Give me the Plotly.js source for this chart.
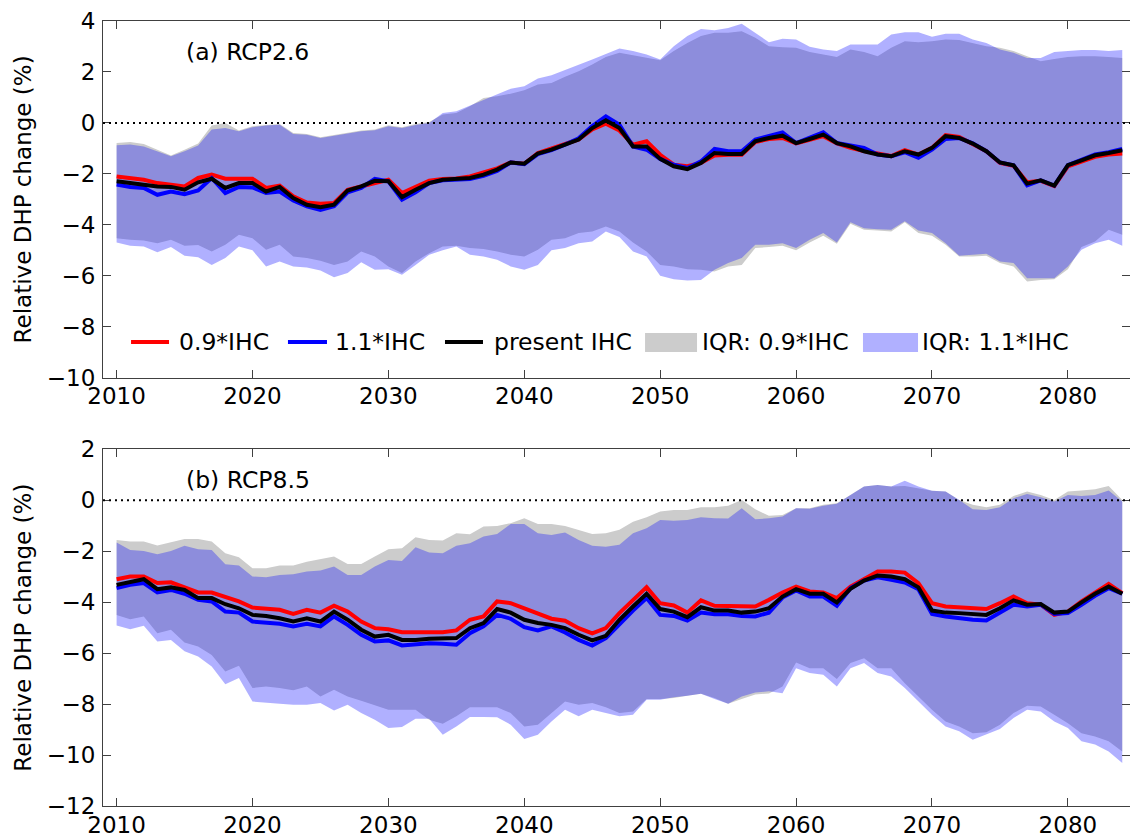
<!DOCTYPE html>
<html><head><meta charset="utf-8">
<script src="https://cdn.plot.ly/plotly-3.0.1.min.js"></script>
<style>html,body{margin:0;padding:0;background:#fff}</style>
</head><body><div id="chart" style="width:1130px;height:840px"></div>
<script>
const years = [2010,2011,2012,2013,2014,2015,2016,2017,2018,2019,
2020,2021,2022,2023,2024,2025,2026,2027,2028,2029,
2030,2031,2032,2033,2034,2035,2036,2037,2038,2039,
2040,2041,2042,2043,2044,2045,2046,2047,2048,2049,
2050,2051,2052,2053,2054,2055,2056,2057,2058,2059,
2060,2061,2062,2063,2064,2065,2066,2067,2068,2069,
2070,2071,2072,2073,2074,2075,2076,2077,2078,2079,
2080,2081,2082,2083,2084];
const xTicks = [2010,2020,2030,2040,2050,2060,2070,2080];

// (a) RCP2.6
const a_ihc09 = [-2.10,-2.16,-2.23,-2.36,-2.42,-2.49,-2.16,-2.03,-2.19,-2.19,
-2.19,-2.55,-2.46,-2.88,-3.12,-3.17,-3.14,-2.62,-2.49,-2.33,
-2.23,-2.75,-2.51,-2.27,-2.20,-2.18,-2.10,-1.95,-1.78,-1.55,
-1.60,-1.18,-1.00,-0.83,-0.65,-0.25,-0.03,-0.30,-0.85,-0.72,
-1.25,-1.64,-1.70,-1.57,-1.28,-1.25,-1.25,-0.75,-0.63,-0.59,
-0.80,-0.66,-0.52,-0.80,-0.98,-1.10,-1.22,-1.30,-1.07,-1.24,
-0.98,-0.48,-0.55,-0.85,-1.11,-1.57,-1.68,-2.33,-2.27,-2.48,
-1.70,-1.52,-1.33,-1.24,-1.20];
const a_ihc11 = [-2.42,-2.51,-2.55,-2.82,-2.69,-2.80,-2.65,-2.16,-2.75,-2.51,
-2.53,-2.75,-2.69,-3.04,-3.27,-3.41,-3.27,-2.72,-2.55,-2.19,
-2.29,-3.01,-2.72,-2.36,-2.25,-2.22,-2.20,-2.08,-1.88,-1.55,
-1.62,-1.22,-1.07,-0.85,-0.60,-0.12,0.26,-0.07,-0.92,-1.05,
-1.41,-1.64,-1.77,-1.51,-1.02,-1.11,-1.11,-0.65,-0.50,-0.37,
-0.79,-0.58,-0.37,-0.79,-0.88,-0.98,-1.24,-1.31,-1.15,-1.37,
-1.05,-0.63,-0.59,-0.80,-1.11,-1.55,-1.66,-2.45,-2.25,-2.46,
-1.66,-1.45,-1.24,-1.15,-1.02];
const a_present = [-2.29,-2.36,-2.40,-2.49,-2.51,-2.62,-2.33,-2.19,-2.55,-2.36,
-2.36,-2.69,-2.51,-2.95,-3.21,-3.31,-3.21,-2.65,-2.49,-2.27,
-2.29,-2.91,-2.62,-2.36,-2.23,-2.20,-2.16,-2.03,-1.83,-1.55,
-1.60,-1.20,-1.05,-0.85,-0.65,-0.20,0.10,-0.20,-0.92,-0.92,
-1.41,-1.70,-1.81,-1.57,-1.18,-1.22,-1.22,-0.72,-0.59,-0.50,
-0.79,-0.63,-0.46,-0.79,-0.92,-1.11,-1.24,-1.31,-1.11,-1.24,
-0.98,-0.52,-0.59,-0.81,-1.11,-1.55,-1.66,-2.38,-2.25,-2.46,
-1.66,-1.47,-1.27,-1.18,-1.07];
const a_iqr09_hi = [-0.79,-0.75,-0.83,-1.05,-1.28,-1.05,-0.81,-0.10,0.00,-0.30,
-0.13,-0.08,-0.04,-0.39,-0.43,-0.56,-0.47,-0.37,-0.30,-0.26,
-0.09,-0.17,-0.04,0.04,0.33,0.39,0.65,0.98,1.05,1.15,
1.28,1.51,1.57,1.81,2.03,2.29,2.59,2.75,2.65,2.55,
2.46,2.82,3.14,3.41,3.54,3.54,3.60,3.34,3.01,2.97,
2.95,2.78,2.69,2.59,2.88,2.78,2.62,2.95,3.21,3.17,
3.21,3.27,3.25,3.14,3.01,2.95,2.82,2.62,2.42,2.51,
2.59,2.62,2.62,2.59,2.55];
const a_iqr09_lo = [-4.52,-4.58,-4.61,-4.72,-4.58,-4.82,-4.79,-5.04,-4.78,-4.39,
-4.52,-4.98,-4.78,-5.24,-5.30,-5.41,-5.57,-5.44,-5.04,-5.24,
-5.63,-5.89,-5.44,-5.11,-4.85,-4.82,-4.91,-4.95,-5.04,-5.17,
-5.24,-4.98,-4.58,-4.52,-4.32,-4.26,-4.06,-4.26,-4.69,-5.04,
-5.57,-5.63,-5.74,-5.76,-5.83,-5.63,-5.57,-4.91,-4.87,-4.82,
-5.00,-4.69,-4.43,-4.74,-3.96,-4.19,-4.22,-4.26,-3.90,-4.32,
-4.43,-4.78,-5.24,-5.24,-5.21,-5.50,-5.63,-6.22,-6.16,-6.13,
-5.74,-4.87,-4.65,-4.19,-4.39];
const a_iqr11_hi = [-0.88,-0.85,-0.92,-1.11,-1.31,-1.11,-0.89,-0.26,-0.20,-0.33,
-0.17,-0.10,-0.07,-0.43,-0.46,-0.59,-0.50,-0.39,-0.33,-0.29,
-0.13,-0.20,-0.08,0.00,0.39,0.46,0.68,0.92,1.14,1.34,
1.44,1.74,1.87,2.06,2.28,2.49,2.72,2.92,2.82,2.69,
2.49,3.01,3.41,3.69,3.64,3.73,3.89,3.54,3.17,3.30,
3.27,2.99,2.88,2.82,3.08,3.08,3.08,3.47,3.56,3.56,
3.38,3.50,3.50,3.27,3.14,2.88,2.75,2.55,2.55,2.78,
2.82,2.86,2.86,2.82,2.86];
const a_iqr11_lo = [-4.69,-4.82,-4.85,-5.07,-4.87,-5.21,-5.27,-5.57,-5.30,-4.85,
-5.00,-5.63,-5.44,-5.63,-5.67,-5.79,-6.06,-5.89,-5.47,-5.76,
-5.74,-5.96,-5.57,-5.17,-5.00,-4.85,-5.17,-5.24,-5.37,-5.63,
-5.76,-5.57,-5.00,-4.91,-4.72,-4.65,-4.26,-4.48,-5.04,-5.24,
-6.00,-6.13,-6.18,-6.16,-5.76,-5.50,-5.30,-4.78,-4.78,-4.72,
-4.91,-4.58,-4.32,-4.69,-3.90,-4.13,-4.17,-4.19,-3.86,-4.22,
-4.32,-4.72,-5.21,-5.17,-5.13,-5.44,-5.50,-6.09,-6.09,-6.09,
-5.63,-4.98,-4.72,-4.58,-4.82];

// (b) RCP8.5
const b_ihc09 = [-3.10,-2.99,-2.99,-3.25,-3.22,-3.42,-3.62,-3.62,-3.78,-3.97,
-4.21,-4.24,-4.30,-4.46,-4.30,-4.41,-4.14,-4.37,-4.76,-5.02,
-5.06,-5.18,-5.19,-5.19,-5.18,-5.11,-4.69,-4.56,-3.97,-4.04,
-4.24,-4.43,-4.65,-4.73,-5.02,-5.22,-5.02,-4.43,-3.91,-3.41,
-4.04,-4.13,-4.41,-3.93,-4.14,-4.14,-4.14,-4.17,-3.91,-3.62,
-3.39,-3.58,-3.62,-3.84,-3.39,-3.10,-2.80,-2.80,-2.84,-3.25,
-4.04,-4.17,-4.20,-4.24,-4.27,-4.04,-3.78,-4.04,-4.10,-4.50,
-4.37,-3.97,-3.62,-3.28,-3.65];
const b_ihc11 = [-3.45,-3.32,-3.25,-3.62,-3.52,-3.67,-3.91,-3.97,-4.37,-4.41,
-4.76,-4.82,-4.85,-4.95,-4.85,-4.95,-4.56,-4.89,-5.28,-5.54,
-5.50,-5.70,-5.67,-5.61,-5.63,-5.67,-5.22,-4.95,-4.50,-4.65,
-4.98,-5.11,-4.95,-5.19,-5.48,-5.70,-5.41,-4.85,-4.33,-3.84,
-4.50,-4.54,-4.72,-4.41,-4.47,-4.47,-4.54,-4.56,-4.41,-3.82,
-3.54,-3.78,-3.78,-4.14,-3.45,-3.15,-3.02,-3.12,-3.23,-3.49,
-4.46,-4.56,-4.63,-4.69,-4.72,-4.43,-4.10,-4.17,-4.10,-4.46,
-4.43,-4.10,-3.75,-3.45,-3.67];
const b_present = [-3.32,-3.19,-3.10,-3.49,-3.42,-3.52,-3.84,-3.84,-4.08,-4.24,
-4.50,-4.54,-4.63,-4.76,-4.63,-4.76,-4.37,-4.69,-5.08,-5.35,
-5.28,-5.48,-5.48,-5.44,-5.41,-5.41,-5.02,-4.82,-4.27,-4.41,
-4.69,-4.82,-4.89,-5.02,-5.28,-5.50,-5.32,-4.69,-4.17,-3.67,
-4.27,-4.37,-4.59,-4.20,-4.33,-4.33,-4.41,-4.37,-4.24,-3.78,
-3.49,-3.67,-3.67,-4.01,-3.48,-3.15,-2.95,-2.99,-3.10,-3.42,
-4.33,-4.41,-4.43,-4.46,-4.50,-4.24,-3.93,-4.10,-4.07,-4.41,
-4.37,-4.01,-3.67,-3.39,-3.67];
const b_iqr09_hi = [-1.56,-1.62,-1.62,-1.78,-1.65,-1.52,-1.52,-1.62,-2.08,-2.24,
-2.67,-2.67,-2.56,-2.56,-2.41,-2.31,-2.21,-2.50,-2.50,-2.21,
-1.92,-1.88,-1.45,-1.56,-1.58,-1.29,-1.33,-1.03,-1.01,-0.90,
-0.71,-0.93,-0.93,-1.01,-1.16,-1.32,-1.29,-1.16,-0.84,-0.67,
-0.44,-0.38,-0.38,-0.27,-0.27,-0.22,0.01,-0.35,-0.61,-0.58,
-0.31,-0.31,-0.18,-0.12,0.21,0.54,0.60,0.54,0.56,0.47,
0.37,0.34,0.01,-0.18,-0.27,-0.18,0.17,0.34,0.21,0.01,
0.34,0.38,0.43,0.56,0.01];
const b_iqr09_lo = [-4.50,-4.67,-4.56,-5.22,-5.08,-5.58,-5.74,-6.07,-6.72,-6.50,
-7.37,-7.31,-7.37,-7.46,-7.31,-7.70,-7.44,-7.70,-7.87,-8.03,
-8.22,-8.22,-8.22,-8.61,-8.77,-8.48,-8.12,-8.12,-8.12,-8.35,
-8.88,-8.81,-8.35,-7.90,-8.03,-7.96,-8.12,-8.35,-8.29,-7.80,
-7.80,-7.76,-7.67,-7.59,-7.76,-7.99,-7.80,-7.62,-7.58,-7.31,
-6.37,-6.59,-6.59,-7.02,-6.39,-6.20,-6.59,-6.59,-7.18,-7.70,
-8.22,-8.68,-8.88,-9.14,-9.11,-8.81,-8.35,-8.07,-8.09,-8.42,
-8.75,-9.14,-9.27,-9.46,-9.86];
const b_iqr11_hi = [-1.66,-1.95,-1.99,-2.12,-1.99,-1.79,-1.92,-1.95,-2.51,-2.56,
-2.99,-3.02,-2.93,-2.90,-2.80,-2.76,-2.60,-2.93,-2.93,-2.60,
-2.34,-2.38,-1.84,-2.05,-2.08,-1.79,-1.69,-1.42,-1.32,-0.93,
-0.93,-1.29,-1.36,-1.27,-1.56,-1.79,-1.82,-1.75,-1.29,-1.10,
-0.77,-0.80,-0.77,-0.67,-0.71,-0.72,-0.31,-0.75,-0.71,-0.64,
-0.31,-0.33,-0.22,-0.14,0.21,0.54,0.60,0.54,0.77,0.54,
0.37,0.34,0.01,-0.35,-0.38,-0.27,0.08,0.25,0.12,-0.05,
0.21,0.17,0.21,0.38,-0.05];
const b_iqr11_lo = [-4.92,-5.06,-4.93,-5.54,-5.48,-5.93,-6.13,-6.52,-7.22,-6.98,
-7.90,-7.93,-7.99,-8.03,-8.03,-7.96,-8.25,-8.03,-8.35,-8.61,
-8.94,-8.90,-8.58,-8.58,-9.20,-8.88,-8.51,-8.51,-8.52,-8.81,
-9.37,-9.20,-8.68,-8.22,-8.48,-8.22,-8.35,-8.48,-8.42,-7.83,
-7.83,-7.73,-7.67,-7.59,-7.80,-7.99,-7.70,-7.55,-7.50,-7.57,
-6.59,-6.78,-6.85,-7.31,-6.59,-6.39,-6.78,-6.92,-7.37,-7.90,
-8.42,-8.88,-9.07,-9.40,-9.20,-8.98,-8.55,-8.22,-8.29,-8.68,
-8.94,-9.46,-9.59,-9.86,-10.31];

const legendLabels = ['0.9*IHC','1.1*IHC','present IHC','IQR: 0.9*IHC','IQR: 1.1*IHC'];
const panelLabels = ['(a) RCP2.6','(b) RCP8.5'];
const yTitle = 'Relative DHP change (%)';

const FONT = 'DejaVu Sans';
const RED = '#ff0000', BLUE = '#0000ff', BLACK = '#000000';
const GREY_FILL = '#cccccc', BLUE_FILL = 'rgba(0,0,255,0.31)';

function band(lo, hi, color, xa, ya) {
  return [
    {x: years, y: lo, type:'scatter', mode:'lines', line:{width:0, color:color}, xaxis:xa, yaxis:ya, showlegend:false, hoverinfo:'skip'},
    {x: years, y: hi, type:'scatter', mode:'lines', line:{width:0, color:color}, fill:'tonexty', fillcolor:color, xaxis:xa, yaxis:ya, showlegend:false, hoverinfo:'skip'}
  ];
}
function line(y, color, xa, ya) {
  return {x: years, y: y, type:'scatter', mode:'lines', line:{width:4, color:color}, xaxis:xa, yaxis:ya, showlegend:false, hoverinfo:'skip'};
}

const data = [
  ...band(a_iqr09_lo, a_iqr09_hi, GREY_FILL, 'x', 'y'),
  ...band(a_iqr11_lo, a_iqr11_hi, BLUE_FILL, 'x', 'y'),
  line(a_ihc09, RED, 'x', 'y'), line(a_ihc11, BLUE, 'x', 'y'), line(a_present, BLACK, 'x', 'y'),
  ...band(b_iqr09_lo, b_iqr09_hi, GREY_FILL, 'x2', 'y2'),
  ...band(b_iqr11_lo, b_iqr11_hi, BLUE_FILL, 'x2', 'y2'),
  line(b_ihc09, RED, 'x2', 'y2'), line(b_ihc11, BLUE, 'x2', 'y2'), line(b_present, BLACK, 'x2', 'y2')
];

const AX = '#404040';
const axisCommon = {showline:true, linecolor:AX, linewidth:1, mirror:'ticks', ticks:'inside', ticklen:8, tickwidth:1, tickcolor:AX,
  showgrid:false, zeroline:false, tickfont:{family:FONT, size:23, color:'#000'}};
const xCommon = Object.assign({}, axisCommon, {range:[2009, 2084.57], tickmode:'array', tickvals:xTicks, ticktext:xTicks.map(String), ticklabelstandoff:-2});
const yCommon = Object.assign({}, axisCommon, {dtick:2, tick0:0, ticklabelstandoff:2});
const yTitleObj = {text:yTitle, font:{family:FONT, size:23, color:'#000'}, standoff:8};

const shapes = [
  {type:'line', xref:'x domain', yref:'y', x0:0, x1:1, y0:0, y1:0, line:{color:'#000', width:2, dash:'2px,4px'}},
  {type:'line', xref:'x2 domain', yref:'y2', x0:0, x1:1, y0:0, y1:0, line:{color:'#000', width:2, dash:'2px,4px'}},
  {type:'line', xref:'x domain', yref:'y domain', x0:0.0273, x1:0.0643, y0:0.1003, y1:0.1003, line:{color:RED, width:4}},
  {type:'line', xref:'x domain', yref:'y domain', x0:0.1801, x1:0.2181, y0:0.1003, y1:0.1003, line:{color:BLUE, width:4}},
  {type:'line', xref:'x domain', yref:'y domain', x0:0.3330, x1:0.3700, y0:0.1003, y1:0.1003, line:{color:BLACK, width:4}},
  {type:'rect', xref:'x domain', yref:'y domain', x0:0.5278, x1:0.5784, y0:0.0723, y1:0.1256, fillcolor:GREY_FILL, line:{width:0}},
  {type:'rect', xref:'x domain', yref:'y domain', x0:0.7400, x1:0.7936, y0:0.0723, y1:0.1256, fillcolor:BLUE_FILL, line:{width:0}}
];
const legX = [0.0720, 0.2240, 0.3787, 0.5813, 0.7955];
const annFont = {family:FONT, size:23.5, color:'#000'};
const annotations = legendLabels.map((t,i)=>({text:t, xref:'x domain', yref:'y domain', x:legX[i], y:0.1003, xanchor:'left', yanchor:'middle', showarrow:false, font:annFont}));
annotations.push({text:panelLabels[0], xref:'x domain', yref:'y domain', x:0.0790, y:0.913, xanchor:'left', yanchor:'middle', showarrow:false, font:annFont});
annotations.push({text:panelLabels[1], xref:'x2 domain', yref:'y2 domain', x:0.0790, y:0.914, xanchor:'left', yanchor:'middle', showarrow:false, font:annFont});

const layout = {
  width:1130, height:840, margin:{l:103, r:0, t:21, b:34},
  paper_bgcolor:'#fff', plot_bgcolor:'#fff', showlegend:false,
  xaxis: Object.assign({}, xCommon, {domain:[0,1], anchor:'y'}),
  yaxis: Object.assign({}, yCommon, {domain:[0.5455,1], range:[-10,4], anchor:'x', title:yTitleObj}),
  xaxis2: Object.assign({}, xCommon, {domain:[0,1], anchor:'y2'}),
  yaxis2: Object.assign({}, yCommon, {domain:[0,0.4544], range:[-12,2], anchor:'x2', title:yTitleObj}),
  shapes: shapes, annotations: annotations
};
Plotly.newPlot('chart', data, layout, {staticPlot:true, displayModeBar:false});
</script></body></html>
